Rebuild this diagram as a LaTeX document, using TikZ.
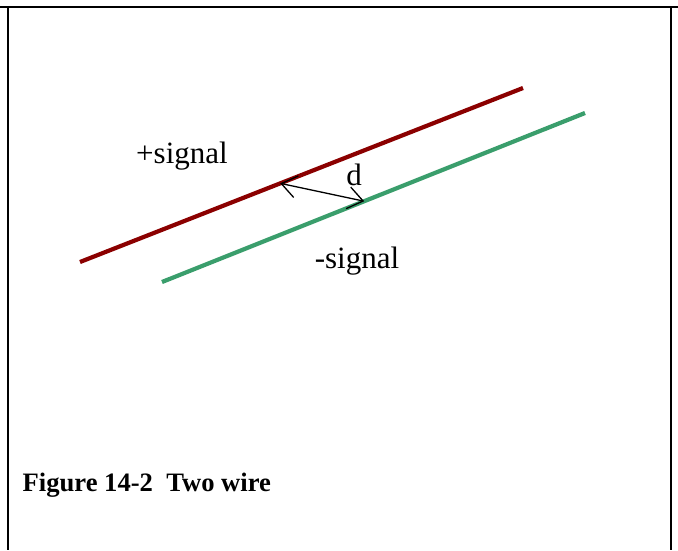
\documentclass[tikz,border=0pt]{standalone}
\usepackage{fontspec}
\setmainfont{Liberation Serif}
\usepackage{tikz}
\usetikzlibrary{calc,arrows.meta}

\begin{document}
\begin{tikzpicture}[
    x=1pt, y=-1pt,
    every node/.style={inner sep=0pt, font=\fontsize{31}{36}\selectfont},
    wire/.style={line width=4.2pt},
    frameline/.style={line width=2.3pt, black},
    gaptip/.style={line width=1.3pt, {Straight Barb[length=15pt, width=22pt]}-{Straight Barb[length=15pt, width=22pt]}},
  ]
    \definecolor{wirered}{HTML}{8B0000}
    \definecolor{wiregreen}{HTML}{3A9E6C}
    \useasboundingbox (0,0) rectangle (678,550);

    % ---- frame ----
    \draw[frameline] (0,7) -- (678,7);
    \draw[frameline] (8,7) -- (8,550);
    \draw[frameline] (671,7) -- (671,550);

    % ---- the two wires ----
    \coordinate (redA) at (80,262);
    \coordinate (redB) at (523,88);
    \coordinate (greenA) at (162,282);
    \coordinate (greenB) at (585,113);
    \draw[wire, wirered] (redA) -- (redB);
    \draw[wire, wiregreen] (greenA) -- (greenB);

    % ---- spacing d ----
    \coordinate (dtop) at ($(redA)!0.452!(redB)$);
    \coordinate (dbot) at ($(greenA)!0.478!(greenB)$);
    \draw[gaptip] (dtop) -- (dbot);

    % ---- labels ----
    \node[anchor=base] (plus) at (182,163.5) {+signal};
    \node[anchor=base] (minus) at (357,268.5) {-signal};
    \node[anchor=base] (dlabel) at (354,185) {d};
    \node[anchor=base west, font=\fontsize{26.6}{30}\selectfont\bfseries]
      (caption) at (22.5,491) {Figure 14-2\ \ Two wire};
  \end{tikzpicture}
\end{document}
